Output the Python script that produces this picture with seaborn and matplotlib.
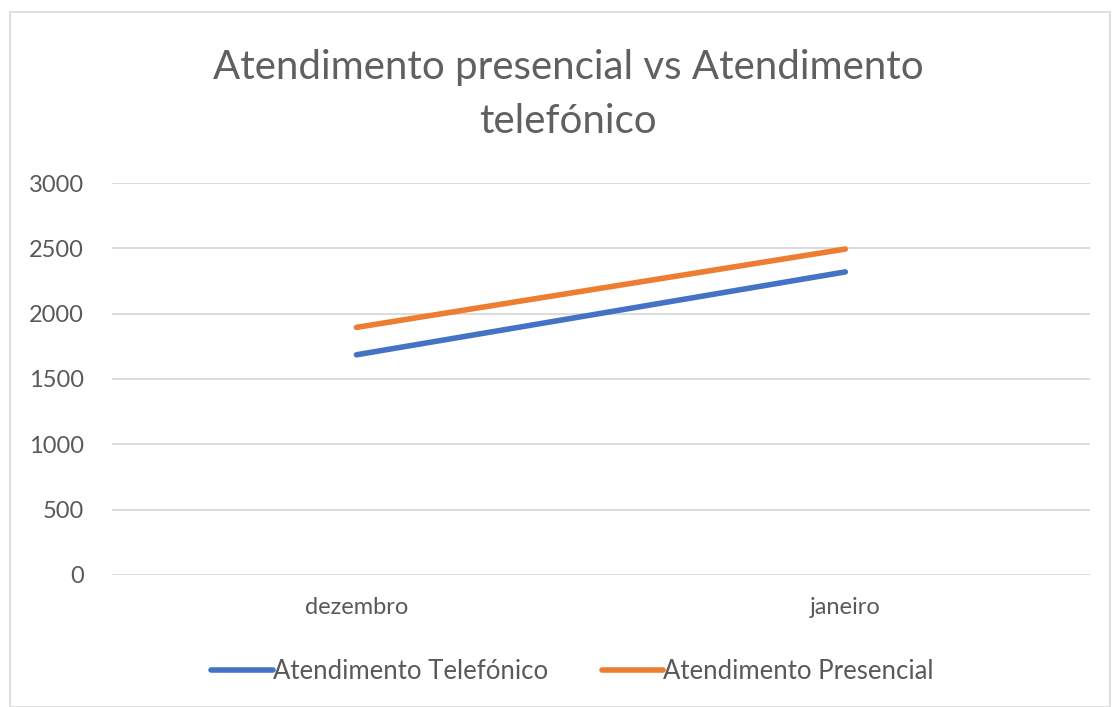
import pandas as pd
import matplotlib.pyplot as plt
import seaborn as sns
from matplotlib.patches import Rectangle
from matplotlib.lines import Line2D

# values
months = ["dezembro", "janeiro"]
telefonico = [1685, 2320]
presencial = [1895, 2495]
series_names = ["Atendimento Telefónico", "Atendimento Presencial"]
colors = ["#4472C4", "#ED7D31"]

df = pd.DataFrame({
    "mes": months * 2,
    "valor": telefonico + presencial,
    "serie": [series_names[0]] * 2 + [series_names[1]] * 2,
})

sns.set_style("white")
plt.rcParams["font.family"] = ["Lato", "DejaVu Sans"]
text_color = "#595959"

fig = plt.figure(figsize=(11.2, 7.07), dpi=100)
ax = fig.add_axes([0.1, 0.187, 0.873, 0.554])

sns.lineplot(data=df, x="mes", y="valor", hue="serie", hue_order=series_names,
             palette=colors, linewidth=4, ax=ax, legend=False, sort=False)
for ln in ax.get_lines():
    ln.set_solid_capstyle("round")

ax.set_xlim(-0.5, 1.5)
ax.set_ylim(0, 3000)
ax.set_yticks(range(0, 3001, 500))
ax.yaxis.grid(True, color="#D9D9D9", linewidth=1.3)
ax.set_xlabel("")
ax.set_ylabel("")
for s in ax.spines.values():
    s.set_visible(False)
ax.tick_params(axis="both", colors=text_color, labelsize=17, length=0)
ax.tick_params(axis="y", pad=20)
ax.tick_params(axis="x", pad=16)

fig.text(0.507, 0.866, "Atendimento presencial vs Atendimento\ntelefónico",
         ha="center", va="center", fontsize=29, color="#606060",
         linespacing=1.55)

handles = [Line2D([0], [0], color=c, linewidth=4, solid_capstyle="round") for c in colors]
fig.legend(handles, series_names, loc="center", bbox_to_anchor=(0.511, 0.05),
           ncol=2, frameon=False, fontsize=18.5, labelcolor=text_color,
           handlelength=2.4, handletextpad=0.0, columnspacing=2.1)

fig.patches.append(Rectangle((0.009, 0.0), 0.982, 0.983, transform=fig.transFigure,
                             fill=False, edgecolor="#D9D9D9", linewidth=1.2))

fig.savefig("out.png", dpi=100)
